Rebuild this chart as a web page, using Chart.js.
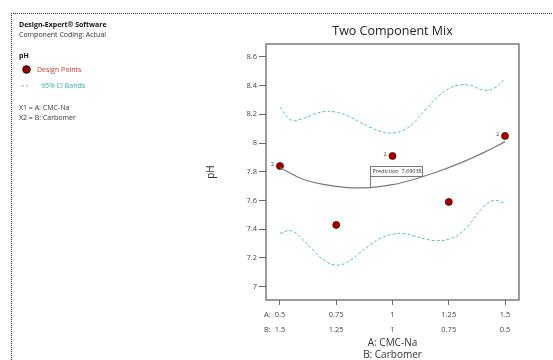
<!DOCTYPE html>
<html>
<head>
<meta charset="utf-8">
<script src="https://cdn.jsdelivr.net/npm/chart.js@4.4.1/dist/chart.umd.min.js"></script>
<style>
  body { margin: 0; background: #fff; }
  canvas { display: block; }
</style>
</head>
<body>
<canvas id="myChart" width="553" height="360"></canvas>
<script>
const ctx = document.getElementById('myChart');
const FONT = '"Open Sans", "Noto Sans", sans-serif';

const xTicks = [0.5, 0.75, 1, 1.25, 1.5];
const yTicks = [7, 7.2, 7.4, 7.6, 7.8, 8, 8.2, 8.4, 8.6];

// design points, A: CMC-Na vs pH (2 = replicated run)
const pointA = [0.5, 0.75, 1, 1.25, 1.5];
const pointPH = [7.84, 7.43, 7.91, 7.59, 8.05];
const pointReps = [2, 1, 2, 1, 2];

// fitted pH curve
const fitA = [0.5, 0.6, 0.7, 0.8, 0.9, 1.0, 1.1, 1.2, 1.3, 1.4, 1.5];
const fitPH = [7.83, 7.75, 7.71, 7.69, 7.69, 7.71, 7.75, 7.80, 7.86, 7.93, 8.01];

// 95% CI bands
const bandA = [0.5, 0.55, 0.6, 0.65, 0.7, 0.75, 0.8, 0.85, 0.9, 0.95, 1.0, 1.05, 1.1, 1.15, 1.2, 1.25, 1.3, 1.35, 1.4, 1.45, 1.5];
const upperPH = [8.25, 8.16, 8.17, 8.20, 8.22, 8.215, 8.19, 8.15, 8.11, 8.08, 8.07, 8.09, 8.15, 8.24, 8.32, 8.38, 8.405, 8.40, 8.37, 8.38, 8.45];
const lowerPH = [7.37, 7.39, 7.33, 7.25, 7.18, 7.15, 7.17, 7.23, 7.29, 7.34, 7.365, 7.37, 7.35, 7.33, 7.32, 7.33, 7.37, 7.45, 7.55, 7.60, 7.58];

const predA = 0.9;
const predPH = 7.69038;

function xy(xs, ys) {
    return xs.map((x, i) => ({ x: x, y: ys[i] }));
}

const extras = {
    id: 'extras',
    afterDraw(chart) {
        const c = chart.ctx;
        const area = chart.chartArea;
        const sx = chart.scales.x;
        const sy = chart.scales.y;
        c.save();

        // dotted frame
        c.strokeStyle = '#333';
        c.lineWidth = 1;
        c.setLineDash([1, 1]);
        c.beginPath();
        c.moveTo(11, 13.5); c.lineTo(553, 13.5);
        c.moveTo(11.5, 13); c.lineTo(11.5, 360);
        c.stroke();
        c.setLineDash([]);

        // left info panel
        c.textBaseline = 'middle';
        c.textAlign = 'left';
        c.fillStyle = '#111';
        c.font = 'bold 7px ' + FONT;
        c.fillText('Design-Expert® Software', 19, 25);
        c.font = '7px ' + FONT;
        c.fillStyle = '#333';
        c.fillText('Component Coding: Actual', 19, 35);
        c.font = 'bold 7px ' + FONT;
        c.fillStyle = '#111';
        c.fillText('pH', 19, 56);
        c.beginPath();
        c.arc(26.5, 69.5, 3.8, 0, Math.PI * 2);
        c.fillStyle = '#8b0000';
        c.fill();
        c.strokeStyle = '#3a0000';
        c.stroke();
        c.font = '7px ' + FONT;
        c.fillStyle = '#cc3333';
        c.fillText('Design Points', 37, 70);
        c.strokeStyle = '#5bbcbc';
        c.setLineDash([2, 2]);
        c.beginPath();
        c.moveTo(22, 86); c.lineTo(29, 86);
        c.stroke();
        c.setLineDash([]);
        c.fillStyle = '#3aa6a6';
        c.fillText('95% CI Bands', 41, 86);
        c.fillStyle = '#333';
        c.fillText('X1 = A: CMC-Na', 19, 108);
        c.fillText('X2 = B: Carbomer', 19, 118);

        // title
        c.textAlign = 'center';
        c.fillStyle = '#222';
        c.font = '12.5px ' + FONT;
        c.fillText('Two Component Mix', (area.left + area.right) / 2, 31);

        // axis titles
        c.font = '10px ' + FONT;
        c.fillStyle = '#333';
        c.fillText('A: CMC-Na', (area.left + area.right) / 2, 343);
        c.fillText('B: Carbomer', (area.left + area.right) / 2, 355);
        c.save();
        c.translate(211, 172);
        c.rotate(-Math.PI / 2);
        c.fillText('pH', 0, 0);
        c.restore();

        // A:/B: prefixes on the first tick
        c.textAlign = 'left';
        c.font = '7.5px ' + FONT;
        c.fillStyle = '#444';
        c.fillText('A:', 264, 315);
        c.fillText('B:', 264, 330);

        // plot frame
        c.strokeStyle = '#666';
        c.lineWidth = 1.3;
        c.strokeRect(area.left, area.top, area.right - area.left, area.bottom - area.top);

        // replicate labels
        c.font = '5px ' + FONT;
        c.fillStyle = '#333';
        c.textAlign = 'right';
        pointA.forEach((a, i) => {
            if (pointReps[i] > 1) {
                c.fillText(String(pointReps[i]), sx.getPixelForValue(a) - 6, sy.getPixelForValue(pointPH[i]) - 1);
            }
        });

        // prediction flag
        const px = Math.round(sx.getPixelForValue(predA)) + 0.5;
        const py = sy.getPixelForValue(predPH);
        c.strokeStyle = '#777';
        c.lineWidth = 1;
        c.beginPath();
        c.moveTo(px, py); c.lineTo(px, py - 11);
        c.stroke();
        c.fillStyle = '#fff';
        c.fillRect(px, py - 21, 52, 10);
        c.strokeRect(px, py - 21, 52, 10);
        c.fillStyle = '#333';
        c.textAlign = 'left';
        c.font = '5.5px ' + FONT;
        c.fillText('Prediction  ' + predPH.toFixed(5), px + 2, py - 16);

        c.restore();
    }
};

new Chart(ctx, {
    type: 'line',
    data: {
        datasets: [
            {
                data: xy(bandA, upperPH),
                borderColor: '#5bbcbc',
                borderWidth: 1,
                borderDash: [3, 2],
                pointRadius: 0,
                tension: 0.4
            },
            {
                data: xy(bandA, lowerPH),
                borderColor: '#5bbcbc',
                borderWidth: 1,
                borderDash: [3, 2],
                pointRadius: 0,
                tension: 0.4
            },
            {
                data: xy(fitA, fitPH),
                borderColor: '#7a7a7a',
                borderWidth: 1.2,
                pointRadius: 0,
                tension: 0.4
            },
            {
                type: 'scatter',
                data: xy(pointA, pointPH),
                backgroundColor: '#a00000',
                borderColor: '#5a0000',
                borderWidth: 0.8,
                pointRadius: 3.5
            }
        ]
    },
    options: {
        responsive: false,
        animation: false,
        layout: {
            padding: { left: 200, right: 34, top: 44, bottom: 0 }
        },
        scales: {
            x: {
                type: 'linear',
                min: 0.438,
                max: 1.562,
                afterBuildTicks: scale => { scale.ticks = xTicks.map(v => ({ value: v })); },
                afterFit: scale => { scale.height = 60; },
                border: { display: false },
                grid: { drawOnChartArea: false, drawTicks: true, tickLength: 5, color: '#666' },
                ticks: {
                    autoSkip: false,
                    maxRotation: 0,
                    padding: 2,
                    color: '#444',
                    font: { family: FONT, size: 7.5, lineHeight: '15px' },
                    callback: value => [String(value), String(Math.round((2 - value) * 100) / 100)]
                }
            },
            y: {
                min: 6.907,
                max: 8.69,
                afterBuildTicks: scale => { scale.ticks = yTicks.map(v => ({ value: v })); },
                afterFit: scale => { scale.width = 66; },
                border: { display: false },
                grid: { drawOnChartArea: false, drawTicks: true, tickLength: 7, color: '#666' },
                ticks: {
                    autoSkip: false,
                    padding: 2,
                    color: '#444',
                    font: { family: FONT, size: 7.5 },
                    callback: value => String(Math.round(value * 10) / 10)
                }
            }
        },
        plugins: {
            legend: { display: false },
            tooltip: { enabled: false }
        }
    },
    plugins: [extras]
});
</script>
</body>
</html>
